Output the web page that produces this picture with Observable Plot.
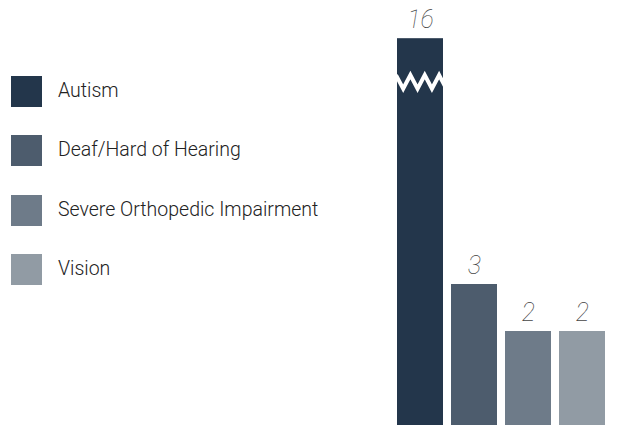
<!DOCTYPE html>
<html><head><meta charset="utf-8">
<script src="https://cdn.jsdelivr.net/npm/d3@7"></script>
<script src="https://cdn.jsdelivr.net/npm/@observablehq/plot@0.6"></script>
<style>
body{margin:0;background:#fff;font-family:Roboto,"Noto Sans",sans-serif;}
#wrap{position:relative;width:619px;height:425px;overflow:hidden;}
#legend{position:absolute;left:11px;top:76px;}
.item{display:flex;align-items:center;height:31px;margin-bottom:28.3px;}
.sw{width:31px;height:31px;margin-right:16px;flex:none;}
.lab{font-size:19.5px;font-weight:300;color:#222;white-space:nowrap;position:relative;top:-1px;}
#chart{position:absolute;left:0;top:0;}
</style></head><body>
<div id="wrap"><div id="chart"></div><div id="legend"></div></div>
<script>
const categories = ["Autism", "Deaf/Hard of Hearing", "Severe Orthopedic Impairment", "Vision"];
const values = [16, 3, 2, 2];
const colors = ["#23364b", "#4d5c6d", "#6e7b89", "#919ba4"];
const breakTop = 8.23;   // visible top of the broken bar, in data units
const breakAt = 7.3;     // position of the zigzag break, in data units

const shown = values.map(v => Math.min(v, breakTop));
const idx = d3.range(categories.length);

const plot = Plot.plot({
  width: 619, height: 425,
  marginLeft: 396, marginRight: 13, marginTop: 2, marginBottom: 0,
  x: {domain: categories, paddingInner: 0.14, paddingOuter: 0, axis: null},
  y: {domain: [0, 9], axis: null},
  color: {domain: categories, range: colors},
  style: {background: "transparent", fontFamily: "Roboto, 'Noto Sans', sans-serif"},
  marks: [
    Plot.barY(idx, {x: i => categories[i], y: i => shown[i], fill: i => categories[i]}),
    Plot.text(idx, {
      x: i => categories[i], y: i => shown[i], text: i => String(values[i]),
      dy: -11, lineAnchor: "bottom", fontSize: 25, fontStyle: "italic", fontWeight: 100, fill: "#444"
    })
  ]
});
document.getElementById("chart").appendChild(plot);

// zigzag break on bars that exceed the visible range
const sx = plot.scale("x"), sy = plot.scale("y");
const bw = sx.bandwidth;
values.forEach((v, i) => {
  if (v <= breakTop) return;
  const x0 = sx.apply(categories[i]);
  const yc = sy.apply(breakAt);
  const half = bw / 6.4, amp = 6.8;
  const pts = [];
  for (let k = 0; k <= 8; k++) {
    pts.push([x0 - 1 + k * half, yc + (k % 2 === 0 ? -amp : amp)]);
  }
  const svg = d3.select(plot);
  const id = "clip" + i;
  svg.append("clipPath").attr("id", id).append("rect")
    .attr("x", x0).attr("y", 0).attr("width", bw).attr("height", 425);
  svg.append("path").attr("d", d3.line()(pts)).attr("fill", "none")
    .attr("stroke", "white").attr("stroke-width", 4).attr("stroke-linejoin", "miter")
    .attr("clip-path", `url(#${id})`);
});

const legend = d3.select("#legend");
categories.forEach((c, i) => {
  const it = legend.append("div").attr("class", "item");
  it.append("div").attr("class", "sw").style("background", colors[i]);
  it.append("div").attr("class", "lab").text(c);
});
</script>
</body></html>
